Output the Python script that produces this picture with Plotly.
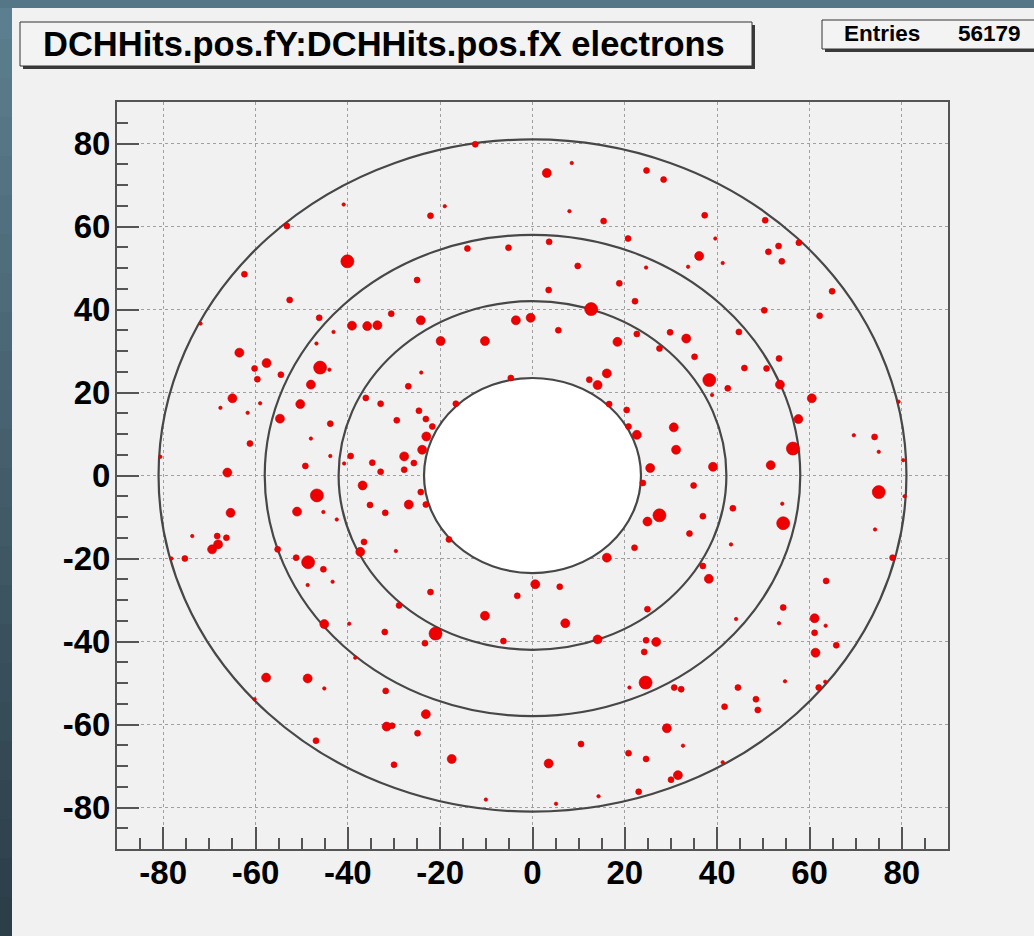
import plotly.graph_objects as go

# ---------------- data ----------------
hit_x = [
    -40.9, -53.2, -40.1, -62.4, -52.6, -71.9, -46.2, -43.1, -39.1, -35.8, -33.6, -30.6, -46.8, -63.5, -57.6,
    -60.2, -59.6, -54.5, -46.0, -44.0, -48.0, -65.0, -67.6, -59.0, -61.7, -50.3, -54.7, -43.8, -36.1, -32.9,
    -29.4, -61.2, -48.0, -39.4, -43.8, -34.7, -40.8, -49.2, -66.1, -32.9, -80.6,
    -12.4, 3.1, 8.5, 24.7, 28.4, -19.0, -22.1, 8.0, 15.4, 20.7, -14.1, -5.2, 3.6, 9.8, 24.6, -25.0, 18.8,
    22.2, 3.5, 12.7, -24.2, -3.6, -0.4, 5.6, -19.9, -10.3, 18.4, 22.6, 27.5, 29.8, 16.1, 14.1, 12.3, -4.7,
    -26.9, -24.1, -24.6, -23.1, -16.6, -21.7, -23.0, -23.9, -27.8, -25.7, -27.8, 16.6, 20.4, 22.6, 20.8,
    30.6, 31.1, 25.5,
    37.3, 39.6, 36.1, 33.7, 41.2, 50.4, 51.1, 53.3, 54.0, 57.7, 64.9, 62.2, 50.2, 44.7, 33.3, 35.1, 38.3,
    38.9, 42.3, 45.9, 50.7, 53.4, 53.6, 60.5, 57.6, 56.4, 51.6, 39.1, 69.6, 74.1, 75.0, 80.3, 79.3,
    -65.4, -68.3, -66.3, -68.1, -69.4, -73.7, -75.3, -78.2, -55.2, -51.0, -46.7, -45.3, -42.4, -36.8, -35.2,
    -31.9, -36.5, -37.3, -48.6, -51.2, -45.3, -43.3, -48.7, -45.1, -39.7, -32.0, -29.6, -28.9, -38.4, -57.7,
    -48.7, -45.1, -31.8, -31.6, -30.4, -46.9, -30.0, -60.2,
    -24.2, -26.8, -23.1, 27.5, 24.9, 23.9, 22.1, 16.1, -18.1, 0.6, 5.9, -3.3, -22.1, -10.3, 7.1, -21.0,
    -23.3, -6.3, 14.1, 24.9, 24.6, 26.8, 24.2, 24.5, 30.7, 21.0, -23.1, -24.9, 29.1, 10.5, 20.8, 24.6,
    -17.5, 3.5, 31.5, 30.0, 23.0, -10.1, 14.3, 5.1,
    34.9, 43.4, 54.3, 54.1, 36.9, 34.0, 43.0, 75.0, 74.2, 80.6, 78.0, 36.9, 38.2, 63.6, 54.3, 44.1, 53.4,
    61.1, 61.1, 63.5, 61.3, 65.8, 62.0, 63.4, 54.7, 44.5, 48.4, 48.8, 41.6, 32.2, 32.6, 41.2,
]
hit_y = [
    65.3, 60.1, 51.6, 48.5, 42.3, 36.6, 38.0, 34.6, 36.1, 36.0, 36.2, 39.0, 31.8, 29.6, 27.1,
    25.8, 23.2, 24.3, 26.0, 25.5, 21.9, 18.6, 16.3, 17.4, 15.1, 17.2, 13.7, 12.5, 18.7, 17.3,
    13.3, 7.7, 8.9, 4.7, 4.7, 3.1, 2.9, 2.3, 0.7, 0.9, 4.5,
    79.8, 72.9, 75.3, 73.5, 71.3, 64.9, 62.6, 63.7, 61.3, 57.1, 54.7, 54.9, 56.3, 50.5, 50.1, 47.1, 46.3,
    42.0, 44.7, 40.1, 37.4, 37.4, 38.0, 35.0, 32.4, 32.4, 32.2, 34.1, 30.6, 34.5, 24.6, 21.8, 23.1, 23.5,
    21.5, 24.8, 15.6, 13.6, 17.3, 11.8, 9.4, 6.2, 4.6, 3.0, 1.4, 17.2, 15.8, 9.8, 11.8,
    11.6, 6.2, 1.8,
    62.7, 57.1, 52.9, 50.3, 51.2, 61.5, 53.9, 55.3, 51.6, 56.1, 44.4, 38.5, 39.8, 34.6, 33.0, 28.6, 23.0,
    19.4, 21.0, 25.9, 25.8, 28.2, 21.9, 18.6, 13.6, 6.5, 2.5, 2.1, 9.7, 9.3, 5.7, 3.7, 17.8,
    -9.0, -14.6, -15.0, -16.6, -17.8, -14.6, -20.0, -20.0, -17.8, -8.7, -4.8, -8.8, -10.6, -2.4, -7.1,
    -9.0, -16.0, -18.4, -20.9, -19.8, -22.6, -25.6, -26.4, -35.8, -35.7, -37.7, -18.2, -31.3, -43.9, -48.7,
    -48.9, -51.3, -51.9, -60.5, -60.3, -63.9, -69.7, -53.9,
    -4.0, -7.0, -7.0, -9.6, -11.1, -1.8, -17.4, -19.8, -15.4, -26.2, -26.8, -29.0, -28.1, -33.8, -35.6, -38.1,
    -40.4, -39.9, -39.5, -32.2, -39.7, -40.1, -42.5, -49.9, -51.1, -51.1, -57.5, -62.1, -60.9, -64.7, -66.9, -68.3,
    -68.3, -69.4, -72.2, -73.3, -76.2, -78.1, -77.3, -79.1,
    -2.4, -7.9, -11.5, -6.8, -9.8, -14.0, -16.6, -4.0, -13.0, -5.0, -19.8, -21.8, -24.9, -25.4, -31.8, -34.6, -35.6,
    -34.4, -37.9, -36.2, -42.7, -40.9, -51.1, -49.7, -49.6, -51.1, -53.9, -56.5, -55.7, -51.5, -65.1, -69.1,
]
# estimated blob weight (1 = faint speck ... 4 = dense cluster)
hit_weight = [
    1, 2, 4, 2, 2, 1, 2, 1, 3, 3, 3, 2, 1, 3, 3,
    2, 2, 2, 4, 1, 3, 3, 1, 1, 1, 3, 3, 2, 2, 2,
    2, 2, 1, 2, 1, 2, 1, 2, 3, 2, 1,
    2, 3, 1, 2, 2, 1, 2, 1, 2, 2, 2, 2, 2, 2, 1, 2, 2,
    2, 2, 4, 3, 3, 3, 2, 3, 3, 3, 2, 2, 2, 3, 3, 2, 2,
    2, 1, 2, 2, 2, 2, 3, 3, 3, 2, 2, 2, 2, 3, 2,
    3, 3, 3,
    2, 1, 3, 1, 1, 2, 2, 2, 2, 2, 2, 2, 2, 2, 3, 2, 4,
    1, 2, 2, 2, 2, 3, 3, 3, 4, 3, 3, 1, 2, 1, 1, 1,
    3, 2, 2, 3, 3, 1, 2, 1, 2, 3, 4, 1, 1, 3, 2,
    2, 2, 3, 4, 2, 2, 1, 1, 3, 1, 2, 1, 2, 1, 3,
    3, 1, 2, 3, 2, 2, 2, 1,
    2, 3, 2, 4, 3, 2, 2, 3, 2, 3, 2, 2, 2, 3, 3, 4,
    2, 2, 3, 2, 2, 3, 2, 4, 2, 1, 3, 2, 3, 2, 2, 2,
    3, 3, 3, 2, 2, 1, 1, 1,
    2, 2, 4, 1, 2, 2, 1, 4, 1, 1, 2, 2, 3, 2, 2, 1, 1,
    3, 2, 1, 3, 2, 2, 1, 1, 2, 2, 2, 2, 2, 1, 1,
]
ring_radii = [81.0, 58.0, 42.0, 23.5]
x_ticks = [-80, -60, -40, -20, 0, 20, 40, 60, 80]
y_ticks = [-80, -60, -40, -20, 0, 20, 40, 60, 80]
title_text = "DCHHits.pos.fY:DCHHits.pos.fX electrons"
stats_label = "Entries"
stats_value = "56179"

# ---------------- layout geometry (pixels) ----------------
W, H = 1034, 936
L, R, T, B = 117, 948, 102, 849
FONT = "Liberation Sans, Arial, sans-serif"
CANVAS = "#f1f1f1"


def px(xp):
    return (xp - L) / (R - L)


def py(yp):
    return (B - yp) / (B - T)


size_map = {1: 3.5, 2: 6, 3: 9, 4: 13}

fig = go.Figure()
fig.add_trace(go.Scatter(
    x=hit_x, y=hit_y, mode="markers",
    marker=dict(size=[size_map[w] for w in hit_weight], color="rgb(238,0,0)", opacity=1,
                line=dict(color="rgb(200,0,0)", width=0.6)),
    hoverinfo="x+y", showlegend=False,
))

shapes = []
# window border gradient (left and top strips)
n = 24
c0 = (92, 127, 143)
c1 = (44, 62, 72)
for i in range(n):
    t = i / (n - 1)
    c = tuple(int(c0[k] + (c1[k] - c0[k]) * t) for k in range(3))
    shapes.append(dict(type="rect", xref="paper", yref="paper", layer="below",
                       x0=px(0), x1=px(12), y0=py(H * i / n), y1=py(H * (i + 1) / n + 1),
                       fillcolor="rgb(%d,%d,%d)" % c, line=dict(width=0)))
shapes.append(dict(type="rect", xref="paper", yref="paper", layer="below",
                   x0=px(0), x1=px(W), y0=py(0), y1=py(8),
                   fillcolor="rgb(84,118,134)", line=dict(width=0)))

# detector rings
for i, r in enumerate(ring_radii):
    inner = i == len(ring_radii) - 1
    shapes.append(dict(type="circle", xref="x", yref="y", layer="between",
                       x0=-r, x1=r, y0=-r, y1=r,
                       fillcolor="white" if inner else "rgba(0,0,0,0)",
                       line=dict(color="#474747", width=2.2)))

# title box with shadow
shapes.append(dict(type="rect", xref="paper", yref="paper", layer="above",
                   x0=px(23), x1=px(755), y0=py(69), y1=py(25),
                   fillcolor="#3a3a3a", line=dict(width=0)))
shapes.append(dict(type="rect", xref="paper", yref="paper", layer="above",
                   x0=px(20), x1=px(752), y0=py(66), y1=py(22),
                   fillcolor="#f3f3f3", line=dict(color="#333333", width=1)))
# stats box with shadow
shapes.append(dict(type="rect", xref="paper", yref="paper", layer="above",
                   x0=px(825), x1=px(1040), y0=py(52), y1=py(23),
                   fillcolor="#3a3a3a", line=dict(width=0)))
shapes.append(dict(type="rect", xref="paper", yref="paper", layer="above",
                   x0=px(822), x1=px(1037), y0=py(49), y1=py(20),
                   fillcolor="#f3f3f3", line=dict(color="#333333", width=1)))

annotations = [
    dict(text=title_text, xref="paper", yref="paper", x=px(384), y=py(44),
         xanchor="center", yanchor="middle", showarrow=False,
         font=dict(family=FONT, size=34.5, color="black", weight="bold")),
    dict(text=stats_label, xref="paper", yref="paper", x=px(842), y=py(34),
         xanchor="left", yanchor="middle", showarrow=False,
         font=dict(family=FONT, size=22.5, color="black", weight="bold")),
    dict(text=stats_value, xref="paper", yref="paper", x=px(1023), y=py(34),
         xanchor="right", yanchor="middle", showarrow=False,
         font=dict(family=FONT, size=22.5, color="black", weight="bold")),
]

axis_common = dict(
    range=[-90, 90], showgrid=True, gridcolor="#a0a0a0", gridwidth=1, griddash="dot",
    zeroline=False, showline=True, linecolor="#555555", linewidth=2, mirror=True,
    ticks="inside", ticklen=22, tickwidth=2, tickcolor="#555555",
    minor=dict(dtick=5, ticks="inside", ticklen=11, tickwidth=2, tickcolor="#555555", showgrid=False),
    tickfont=dict(family=FONT, size=33, color="black", weight="bold"),
    fixedrange=True,
)

fig.update_layout(
    width=W, height=H,
    margin=dict(l=L, r=W - R, t=T, b=H - B),
    paper_bgcolor=CANVAS, plot_bgcolor=CANVAS,
    xaxis=dict(axis_common, tickvals=x_ticks, ticktext=[str(v) for v in x_ticks],
               ticklabelstandoff=-7),
    yaxis=dict(axis_common, tickvals=y_ticks, ticktext=[str(v) for v in y_ticks],
               ticklabelstandoff=-2),
    shapes=shapes, annotations=annotations, showlegend=False,
)

fig.write_html("out.html")
